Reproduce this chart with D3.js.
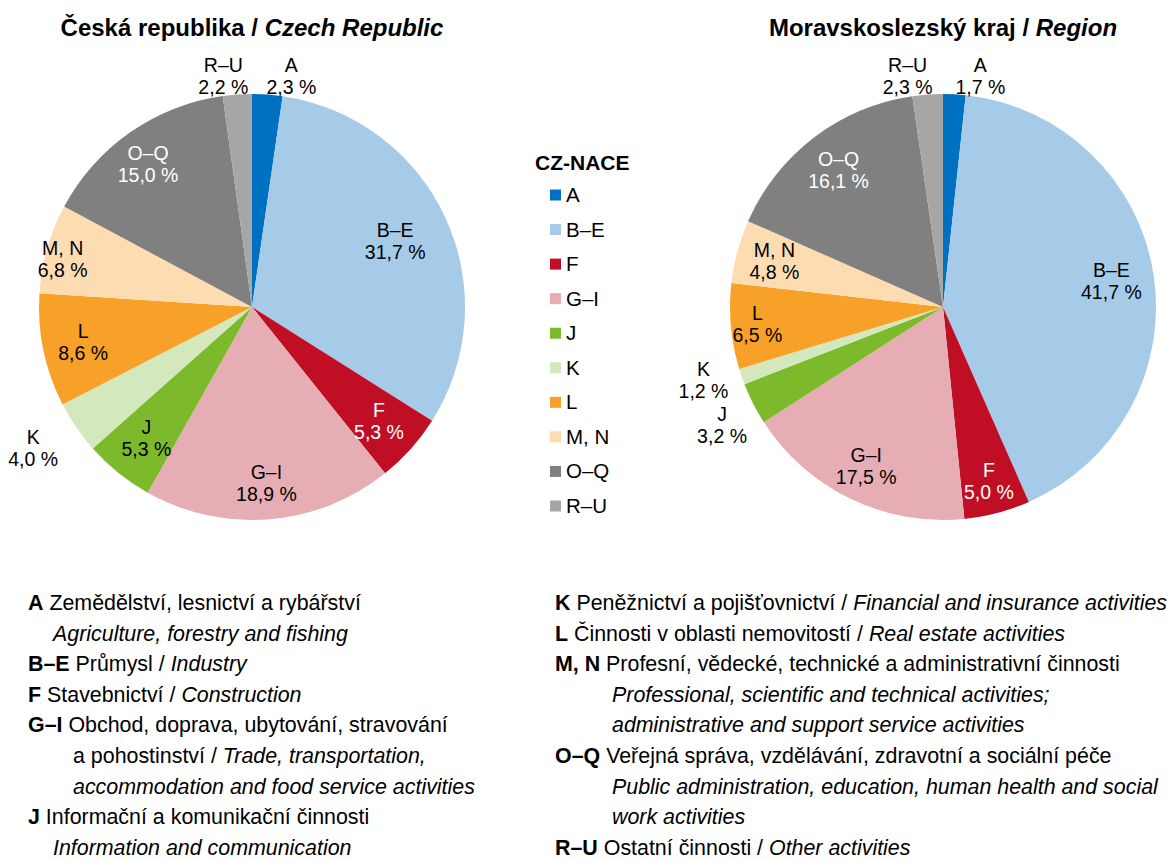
<!DOCTYPE html>
<html>
<head>
<meta charset="utf-8">
<script src="https://cdn.jsdelivr.net/npm/d3@7"></script>
<style>
  body { margin: 0; background: #fff; }
  text { font-family: "Liberation Sans", Arial, Helvetica, sans-serif; fill: #000; }
</style>
</head>
<body>
<svg id="chart" width="1174" height="860"></svg>
<script>
// data
var categories = ["A", "B–E", "F", "G–I", "J", "K", "L", "M, N", "O–Q", "R–U"];
var czValues = [2.3, 31.7, 5.3, 18.9, 5.3, 4.0, 8.6, 6.8, 15.0, 2.2];
var regionValues = [1.7, 41.7, 5.0, 17.5, 3.2, 1.2, 6.5, 4.8, 16.1, 2.3];
var colors = ["#0070c0", "#a6cbe8", "#c00e25", "#e6aeb4", "#7cba2c", "#d3e8bc", "#f7a128", "#fddcb1", "#808080", "#a6a6a6"];
var whiteLabels = ["F", "O–Q"];

var czTitle = ["Česká republika / ", "Czech Republic"];
var regionTitle = ["Moravskoslezský kraj / ", "Region"];
var legendTitle = "CZ-NACE";

// notes under the charts: [text, style] segments per line
var notesLeft = [
  [["A", "b"], [" Zemědělství, lesnictví a rybářství", "n"]],
  [["Agriculture, forestry and fishing", "i"]],
  [["B–E", "b"], [" Průmysl / ", "n"], ["Industry", "i"]],
  [["F", "b"], [" Stavebnictví / ", "n"], ["Construction", "i"]],
  [["G–I", "b"], [" Obchod, doprava, ubytování, stravování", "n"]],
  [["a pohostinství / ", "n"], ["Trade, transportation,", "i"]],
  [["accommodation and food service activities", "i"]],
  [["J", "b"], [" Informační a komunikační činnosti", "n"]],
  [["Information and communication", "i"]]
];
var notesRight = [
  [["K", "b"], [" Peněžnictví a pojišťovnictví / ", "n"], ["Financial and insurance activities", "i"]],
  [["L", "b"], [" Činnosti v oblasti nemovitostí / ", "n"], ["Real estate activities", "i"]],
  [["M, N", "b"], [" Profesní, vědecké, technické a administrativní činnosti", "n"]],
  [["Professional, scientific and technical activities;", "i"]],
  [["administrative and support service activities", "i"]],
  [["O–Q", "b"], [" Veřejná správa, vzdělávání, zdravotní a sociální péče", "n"]],
  [["Public administration, education, human health and social", "i"]],
  [["work activities", "i"]],
  [["R–U", "b"], [" Ostatní činnosti / ", "n"], ["Other activities", "i"]]
];

// layout
var radius = 213;
var pies = [
  { title: czTitle, values: czValues, cx: 252, cy: 307,
    labelR: [1.0, 0.74, 0.80, 0.83, 0.79, 1.2, 0.81, 0.89, 0.845, 1.0],
    nudge: [[24, -19], [0, 0], [0, 0], [0, 0], [0, 0], [-8, -4], [0, 0], [-7, 4], [-1, 5], [-14, -19]] },
  { title: regionTitle, values: regionValues, cx: 943, cy: 307,
    labelR: [1.0, 0.80, 0.845, 0.83, 1.18, 1.13, 0.875, 0.82, 0.81, 1.0],
    nudge: [[26, -18], [0, 0], [0, 0], [0, 0], [3, 4], [-12, -6], [0, 0], [0, 0], [0, 0], [-20, -19]] }
];

var svg = d3.select("#chart");
var color = d3.scaleOrdinal().domain(categories).range(colors);
var pie = d3.pie().sort(null).value(function(d) { return d.value; });
var arc = d3.arc().innerRadius(0).outerRadius(radius);

function fmt(v) { return v.toFixed(1).replace(".", ",") + " %"; }

pies.forEach(function(p) {
  var data = categories.map(function(c, i) { return { cat: c, value: p.values[i], idx: i }; });
  var g = svg.append("g").attr("transform", "translate(" + p.cx + "," + p.cy + ")");

  g.selectAll("path")
    .data(pie(data))
    .enter().append("path")
    .attr("d", arc)
    .attr("fill", function(d) { return color(d.data.cat); });

  // labels
  var lbl = g.selectAll("text.lbl")
    .data(pie(data))
    .enter().append("text")
    .attr("class", "lbl")
    .attr("text-anchor", "middle")
    .style("font-size", "19.5px")
    .attr("transform", function(d) {
      var i = d.data.idx;
      var r = radius * p.labelR[i];
      var c = d3.arc().innerRadius(r).outerRadius(r).centroid(d);
      return "translate(" + (c[0] + p.nudge[i][0]) + "," + (c[1] + p.nudge[i][1]) + ")";
    })
    .style("fill", function(d) { return whiteLabels.indexOf(d.data.cat) >= 0 ? "#fff" : "#000"; });
  lbl.append("tspan").attr("x", 0).attr("y", -4).text(function(d) { return d.data.cat; });
  lbl.append("tspan").attr("x", 0).attr("y", 18).text(function(d) { return fmt(d.data.value); });

  // title
  var t = svg.append("text")
    .attr("x", p.cx).attr("y", 36)
    .attr("text-anchor", "middle")
    .style("font-size", "24px").style("font-weight", "bold");
  t.append("tspan").text(p.title[0]);
  t.append("tspan").style("font-style", "italic").text(p.title[1]);
});

// legend
var legend = svg.append("g").attr("transform", "translate(535,0)");
legend.append("text").attr("x", 0).attr("y", 170)
  .style("font-size", "21px").style("font-weight", "bold").text(legendTitle);
var ly = d3.scalePoint().domain(categories).range([195, 506]);
var item = legend.selectAll("g.item").data(categories).enter().append("g")
  .attr("class", "item")
  .attr("transform", function(d) { return "translate(0," + ly(d) + ")"; });
item.append("rect").attr("x", 15).attr("y", -5.5).attr("width", 11).attr("height", 11)
  .attr("fill", function(d) { return color(d); });
item.append("text").attr("x", 31).attr("y", 7).style("font-size", "20.5px").text(function(d) { return d; });

// notes
var noteIndentLeft = [28, 53, 28, 28, 28, 73, 73, 28, 53];
var noteIndentRight = [555, 555, 555, 612, 612, 555, 612, 612, 555];
function drawNotes(lines, xs) {
  lines.forEach(function(line, i) {
    var t = svg.append("text").attr("x", xs[i]).attr("y", 610 + i * 30.6).style("font-size", "21.4px");
    line.forEach(function(seg) {
      var s = t.append("tspan").text(seg[0]);
      if (seg[1] === "b") s.style("font-weight", "bold");
      if (seg[1] === "i") s.style("font-style", "italic");
    });
  });
}
drawNotes(notesLeft, noteIndentLeft);
drawNotes(notesRight, noteIndentRight);
</script>
</body>
</html>
